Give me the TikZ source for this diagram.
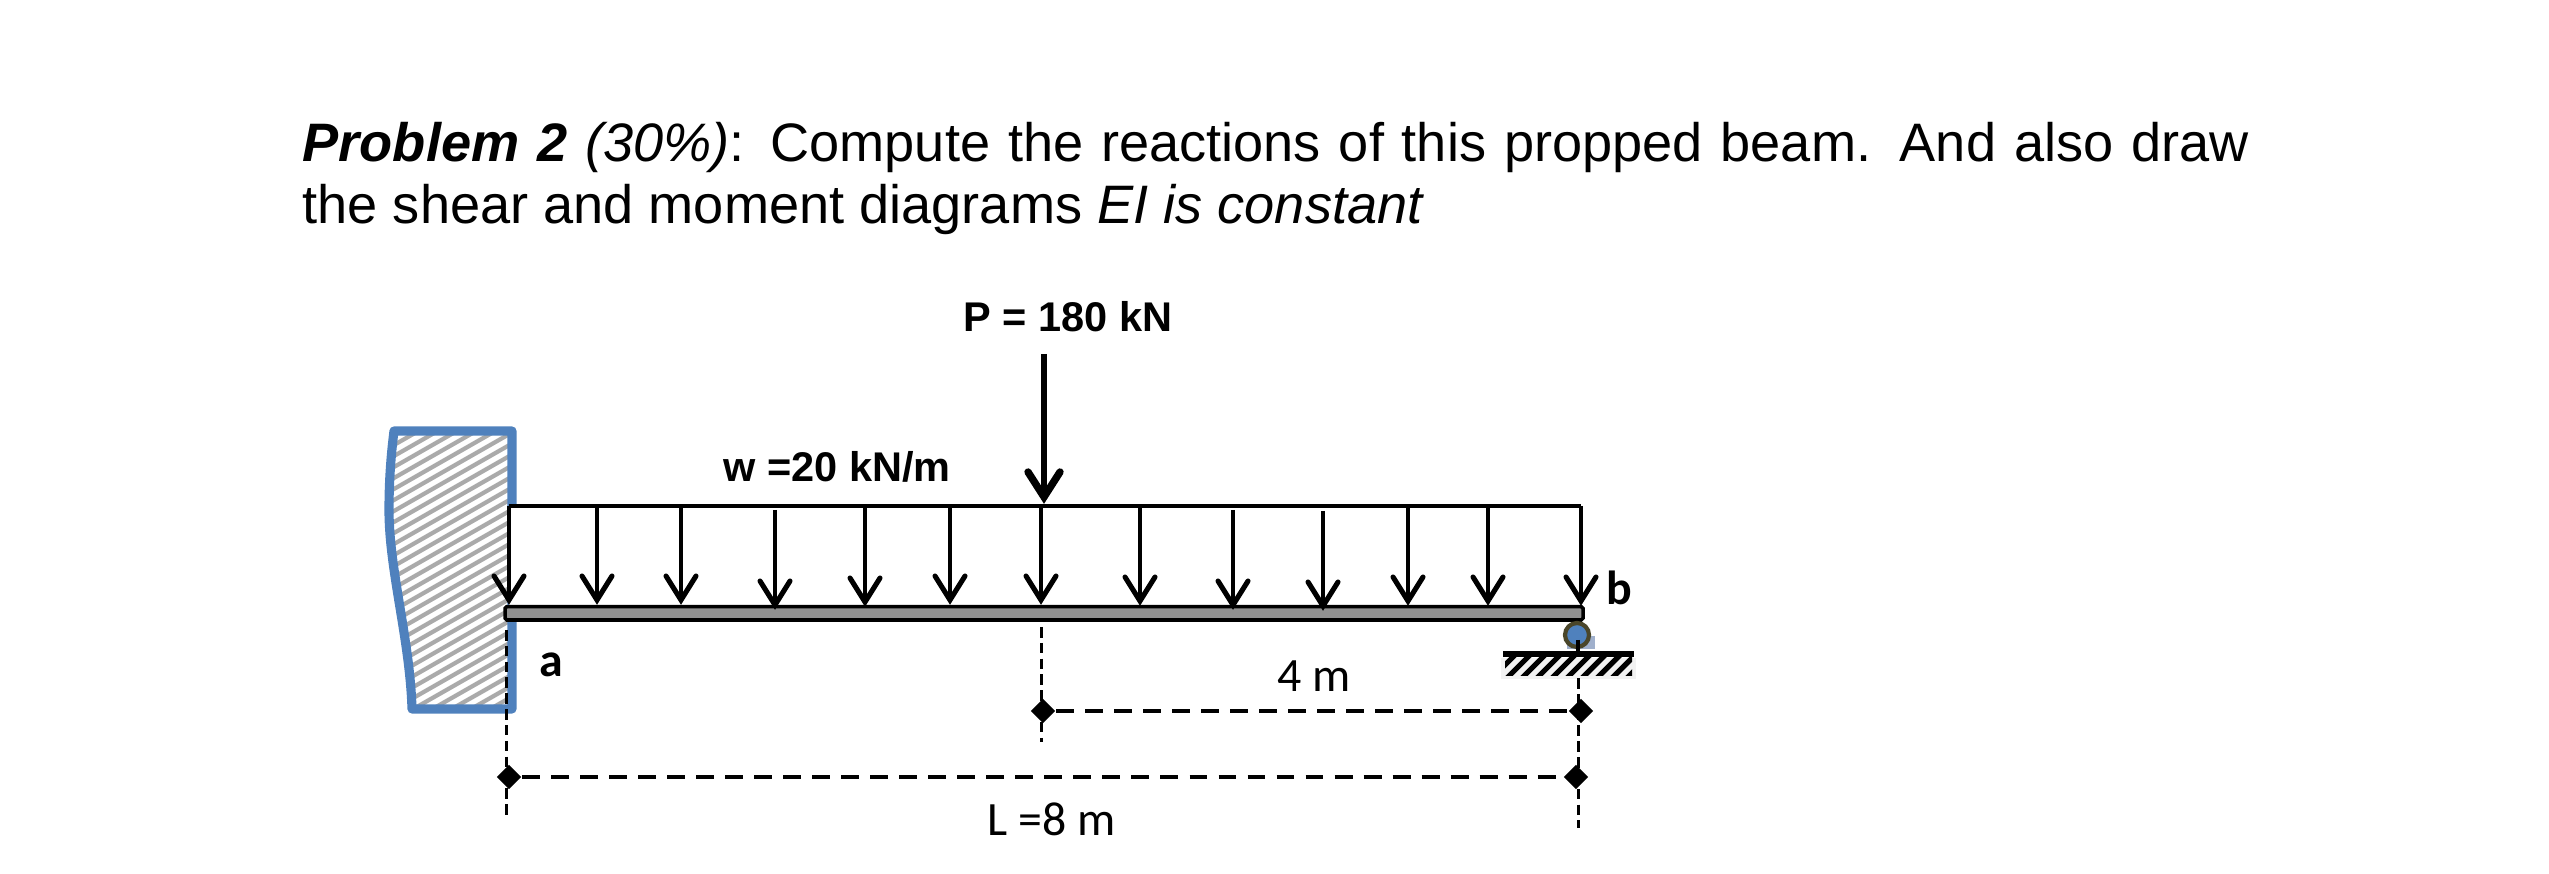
\documentclass[tikz,border=0pt]{standalone}
\usepackage{fontspec}
\setmainfont{Liberation Sans}
\newfontfamily\calibri{Carlito}
\usetikzlibrary{arrows.meta}
\usetikzlibrary{shapes.geometric}
\definecolor{wallblue}{RGB}{79,129,189}
\definecolor{hatchgray}{RGB}{170,170,170}
\definecolor{beamgray}{RGB}{145,145,145}
\definecolor{rimolive}{RGB}{74,70,42}
\definecolor{shadeblue}{RGB}{160,176,204}
\tikzset{
	loadarrow/.style={line width=1.25pt},
	loadhead/.style={line width=1.45pt, line cap=round, line join=miter},
	pointarrow/.style={line width=1.9pt},
	pointhead/.style={line width=2.1pt, line cap=round, line join=miter},
	dimline/.style={line width=1.4pt, dash pattern=on 5.1pt off 3.15pt},
	guideline/.style={line width=0.85pt, dash pattern=on 3pt off 1.5pt},
	dimend/.style={diamond, fill=black, inner sep=0pt, minimum size=0.25cm},
	boldlabel/.style={anchor=base west, inner sep=0pt, font=\fontsize{11.8pt}{13pt}\selectfont\bfseries},
	caliblabel/.style={anchor=base west, inner sep=0pt, font=\fontsize{13.6pt}{16pt}\selectfont\calibri},
}
\begin{document}
\begin{tikzpicture}[x=0.01cm, y=-0.01cm]
	\useasboundingbox (0,0) rectangle (2549,874);
	% problem text
	\node[anchor=north west, inner sep=0pt, text width=19.45cm, align=justify] (problem) at (302,122) {\fontsize{15.4pt}{17.6pt}\selectfont
		\textbf{\textit{Problem 2}} \textit{(30\%)}: Compute the reactions of this propped beam. And also draw\linebreak the shear and moment diagrams \textit{EI is constant}\par};
	% wall
	\begin{scope}
		\clip (394,431) -- (512,431) -- (512,709) -- (412,709) .. controls (410,640) and (389,570) .. (389,510) .. controls (389,480) and (391,455) .. (394,431) -- cycle;
		\foreach \s in {0,11,...,420} {
			\draw[hatchgray, line width=1.2pt] (380,420+\s) -- (520,340+\s);
		}
	\end{scope}
	\draw[wallblue, line width=2.6pt, line join=round] (394,431) -- (512,431) -- (512,709) -- (412,709) .. controls (410,640) and (389,570) .. (389,510) .. controls (389,480) and (391,455) .. (394,431) -- cycle;
	% distributed load
	\coordinate (la) at (509,506);
	\coordinate (lb) at (1581,506);
	\fill[white] (la) rectangle (1581,607);
	\draw[line width=1.25pt] (la) -- (lb);
	% beam
	\draw[fill=beamgray, line width=1pt, rounded corners=0.5pt] (505,606.7) rectangle (1583,620);
	\foreach \x/\t/\h in {509/506/603, 597/506/603, 681/506/603, 775/510/608, 865/508/605, 950/506/603, 1041/506/603, 1140/506/604, 1233/510/608, 1323/511/609, 1408/506/604, 1488/506/604, 1581/506/604} {
		\coordinate (t\x) at (\x,\t);
		\coordinate (h\x) at (\x,\h-3);
		\draw[loadarrow] (t\x) -- (h\x);
		\draw[loadhead] (\x-15,\h-27) -- (h\x) -- (\x+15,\h-27);
	}
	% point load
	\coordinate (pt) at (1044,354);
	\coordinate (ph) at (1044,497);
	\draw[pointarrow] (pt) -- (ph);
	\draw[pointhead] (1028,472) -- (ph) -- (1060,472);
	% roller
	\fill[shadeblue] (1567,636) rectangle (1595,649);
	\draw[rimolive, fill=wallblue, line width=1.2pt] (1577,635) circle (12);
	\fill[white!95!black] (1501,658) rectangle (1636,679);
	\begin{scope}
		\clip (1505,658) rectangle (1632,676);
		\foreach \s in {0,15,...,165} {
			\draw[black, line width=1.5pt] (1490+\s,680) -- (1518+\s,652);
		}
	\end{scope}
	\coordinate (gl) at (1503,654);
	\coordinate (gr) at (1634,654);
	\coordinate (rs) at (1578,640);
	\coordinate (rg) at (1578,654);
	\draw[line width=1.7pt] (gl) -- (gr);
	\draw[line width=1.1pt] (rs) -- (rg);
	% dimensions
	\node[dimend] (d1) at (509,777){};
	\node[dimend] (d2) at (1576,777){};
	\node[dimend] (d3) at (1043,711){};
	\node[dimend] (d4) at (1581,711){};
	\draw[dimline] (d1) -- (d2);
	\draw[dimline] (d3) -- (d4);
	\coordinate (g1) at (506,630);
	\coordinate (g2) at (506,816);
	\coordinate (g3) at (1041,627);
	\coordinate (g4) at (1041,742);
	\coordinate (g5) at (1578,678);
	\coordinate (g6) at (1578,828);
	\draw[guideline] (g1) -- (g2);
	\draw[guideline] (g3) -- (g4);
	\draw[guideline] (g5) -- (g6);
	% labels
	\node[boldlabel] (plabel) at (963,332) {P = 180 kN};
	\node[boldlabel] (wlabel) at (723,482) {w =20 kN/m};
	\node[caliblabel, font=\fontsize{13.6pt}{16pt}\selectfont\calibri\bfseries] (alabel) at (539,677) {a};
	\node[caliblabel, font=\fontsize{13.6pt}{16pt}\selectfont\calibri\bfseries] (blabel) at (1606,605) {b};
	\node[caliblabel] (mlabel) at (1277,692) {4 m};
	\node[caliblabel] (llabel) at (987,836) {L =8 m};
\end{tikzpicture}
\end{document}
